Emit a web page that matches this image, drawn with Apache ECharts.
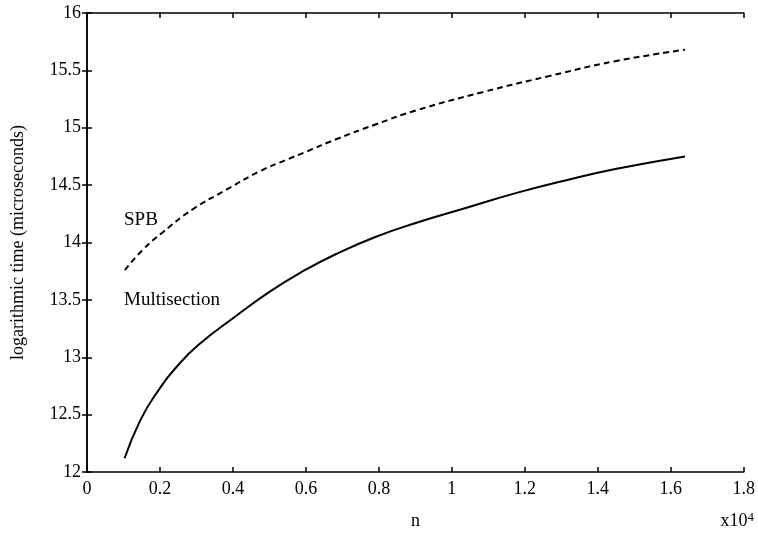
<!DOCTYPE html>
<html>
<head>
<meta charset="utf-8">
<script src="https://cdn.jsdelivr.net/npm/echarts@6/dist/echarts.min.js"></script>
<style>html,body{margin:0;padding:0;background:#fff}#c{width:758px;height:535px}</style>
</head>
<body>
<div id="c"></div>
<script>
// x values in units of 10^4
const multiX = [0.103,0.146,0.191,0.255,0.31,0.40,0.50,0.592,0.683,0.792,0.901,1.038,1.175,1.311,1.448,1.639];
const multiY = [12.12,12.45,12.69,12.95,13.12,13.34,13.57,13.75,13.90,14.05,14.17,14.30,14.43,14.54,14.64,14.75];
const spbX = [0.104,0.154,0.208,0.29,0.382,0.473,0.546,0.60,0.683,0.792,0.901,1.084,1.266,1.448,1.639];
const spbY = [13.76,13.94,14.09,14.29,14.46,14.62,14.72,14.79,14.90,15.03,15.15,15.31,15.45,15.58,15.68];
const xTicks = [0,0.2,0.4,0.6,0.8,1,1.2,1.4,1.6,1.8];
const yTicks = [12,12.5,13,13.5,14,14.5,15,15.5,16];
const seriesNames = ['SPB','Multisection'];
const xName = 'n';
const yName = 'logarithmic time (microseconds)';

const FONT = '"Liberation Serif", "DejaVu Serif", serif';
const pairs = (xs, ys) => xs.map((x, i) => [x, ys[i]]);

const chart = echarts.init(document.getElementById('c'), null, {renderer: 'canvas'});
const axisLine = {show: true, lineStyle: {color: '#000', width: 1.5}};
const tickIn = {show: true, inside: true, length: 5, lineStyle: {color: '#000', width: 1.5}};
chart.setOption({
  backgroundColor: '#fff',
  animation: false,
  grid: {left: 87, right: 12, top: 13, bottom: 63},
  xAxis: [{
    type: 'value', min: xTicks[0], max: xTicks[xTicks.length-1], interval: 0.2,
    name: xName, nameLocation: 'middle', nameGap: 40,
    nameTextStyle: {fontFamily: FONT, fontSize: 18, color: '#000'},
    axisLine, axisTick: tickIn, splitLine: {show: false},
    axisLabel: {fontFamily: FONT, fontSize: 18, color: '#000', margin: 8,
      formatter: v => String(+v.toFixed(1))}
  }, {
    type: 'value', position: 'top', min: xTicks[0], max: xTicks[xTicks.length-1], interval: 0.2,
    axisLine, axisTick: tickIn, axisLabel: {show: false}, splitLine: {show: false}
  }],
  yAxis: [{
    type: 'value', min: yTicks[0], max: yTicks[yTicks.length-1], interval: 0.5,
    name: yName, nameLocation: 'middle', nameGap: 60,
    nameTextStyle: {fontFamily: FONT, fontSize: 18, color: '#000'},
    axisLine, axisTick: tickIn, splitLine: {show: false},
    axisLabel: {fontFamily: FONT, fontSize: 18, color: '#000', margin: 6,
      formatter: v => String(+v.toFixed(1))}
  }, {
    type: 'value', position: 'right', min: yTicks[0], max: yTicks[yTicks.length-1], interval: 0.5,
    axisLine, axisTick: tickIn, axisLabel: {show: false}, splitLine: {show: false}
  }],
  series: [{
    name: seriesNames[0], type: 'line', data: pairs(spbX, spbY), smooth: 0.5,
    showSymbol: false, lineStyle: {color: '#000', width: 2, type: [6, 4]}
  }, {
    name: seriesNames[1], type: 'line', data: pairs(multiX, multiY), smooth: 0.5,
    showSymbol: false, lineStyle: {color: '#000', width: 2, type: 'solid'}
  }],
  graphic: [
    {type: 'text', left: 124, top: 211, style: {text: seriesNames[0], font: '19px ' + FONT, fill: '#000'}},
    {type: 'text', left: 124, top: 291, style: {text: seriesNames[1], font: '19px ' + FONT, fill: '#000'}},
    {type: 'text', right: 4, top: 511, style: {
      text: 'x10{s|4}', font: '18px ' + FONT, fill: '#000',
      rich: {s: {fontSize: 13, fontFamily: FONT, verticalAlign: 'top', padding: [0,0,8,0]}}
    }}
  ]
});
</script>
</body>
</html>
